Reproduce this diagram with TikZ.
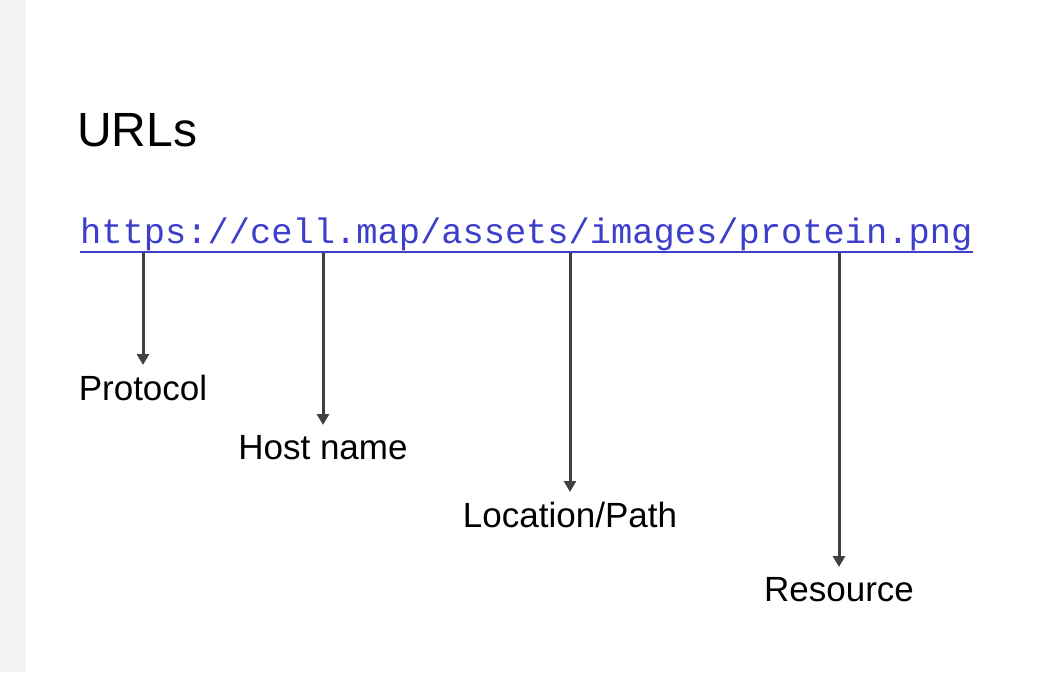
\documentclass[tikz,border=0pt]{standalone}
\usepackage{fontspec}
\setmainfont{Liberation Sans}
\setmonofont{Liberation Mono}
\usetikzlibrary{arrows.meta}
\definecolor{urlblue}{RGB}{62,62,205}
\definecolor{arrowgray}{RGB}{64,64,64}
\definecolor{stripgray}{RGB}{243,243,243}
\begin{document}
\begin{tikzpicture}[x=1pt, y=-1pt,
    partlabel/.style={anchor=north, inner xsep=0pt, inner ysep=0pt,
      font=\fontsize{35}{42}\selectfont},
    partarrow/.style={arrowgray, line width=3pt,
      -{Triangle[length=11pt, width=12pt]}, shorten >=10pt}]

  % --- sfondo ---
  \fill[white] (0,0) rectangle (1054,672);
  \fill[stripgray] (0,0) rectangle (26,672);

  % --- titolo ---
  \node[anchor=base west, inner sep=0pt, font=\fontsize{48}{58}\selectfont]
    (title) at (77,146) {URLs};

  % --- indirizzo ---
  \node[anchor=base west, inner sep=0pt, text=urlblue,
    font=\ttfamily\fontsize{35.4}{42}\selectfont]
    (url) at (80,243) {https://cell.map/assets/images/protein.png};
  \draw[urlblue, line width=1.5pt] ([yshift=-9pt]url.base west)
    -- ([yshift=-9pt]url.base east);

  % --- punti di partenza ---
  \coordinate (proto) at (143,253);
  \coordinate (host) at (323,253);
  \coordinate (loc) at (570,253);
  \coordinate (res) at (839,253);

  % --- etichette ---
  \node[partlabel] (protolbl) at (143,375) {Protocol};
  \node[partlabel] (hostlbl) at (323,435) {Host name};
  \node[partlabel] (loclbl) at (570,502) {Location/Path};
  \node[partlabel] (reslbl) at (839,577) {Resource};

  % --- frecce ---
  \draw[partarrow] (proto) -- (protolbl.north);
  \draw[partarrow] (host) -- (hostlbl.north);
  \draw[partarrow] (loc) -- (loclbl.north);
  \draw[partarrow] (res) -- (reslbl.north);

\end{tikzpicture}
\end{document}
